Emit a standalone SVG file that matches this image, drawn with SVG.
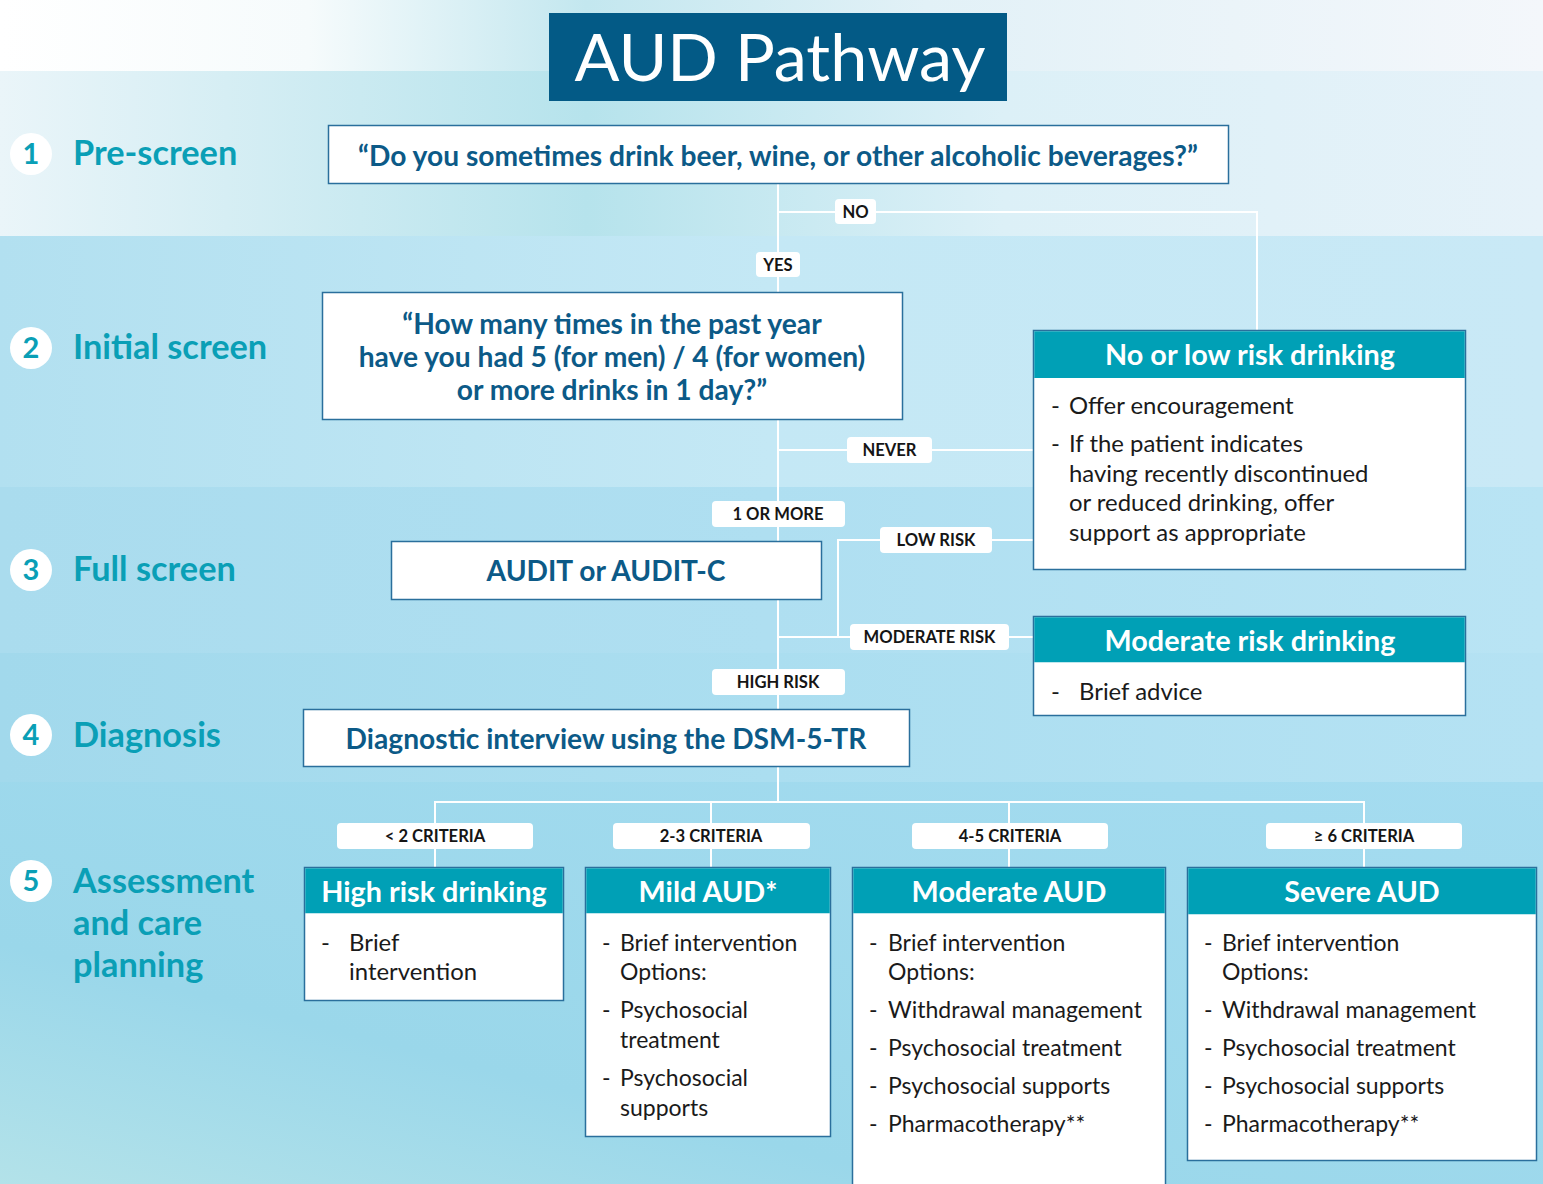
<svg xmlns="http://www.w3.org/2000/svg" width="1543" height="1184" viewBox="0 0 1543 1184">
<defs>
<linearGradient id="g0" x1="0" y1="0" x2="1" y2="0">
<stop offset="0" stop-color="#ffffff"/><stop offset="0.2" stop-color="#f6fbfc"/><stop offset="0.38" stop-color="#c3e7ef"/><stop offset="0.6" stop-color="#e2f1f7"/><stop offset="1" stop-color="#f4f7fb"/>
</linearGradient>
<linearGradient id="g1" x1="0" y1="0" x2="1" y2="0">
<stop offset="0" stop-color="#eaf5f9"/><stop offset="0.38" stop-color="#b6e3ec"/><stop offset="0.65" stop-color="#dcf0f7"/><stop offset="1" stop-color="#e6f2f9"/>
</linearGradient>
<linearGradient id="g2" x1="0" y1="0" x2="1" y2="0">
<stop offset="0" stop-color="#b2e0f0"/><stop offset="0.5" stop-color="#c4e8f5"/><stop offset="1" stop-color="#c9e9f6"/>
</linearGradient>
<linearGradient id="g3" x1="0" y1="0" x2="1" y2="0">
<stop offset="0" stop-color="#aadcee"/><stop offset="0.5" stop-color="#afdff1"/><stop offset="1" stop-color="#b9e4f4"/>
</linearGradient>
<linearGradient id="g4" x1="0" y1="0" x2="1" y2="0">
<stop offset="0" stop-color="#a2d9ec"/><stop offset="0.5" stop-color="#abdef0"/><stop offset="1" stop-color="#b5e2f3"/>
</linearGradient>
<linearGradient id="g5" x1="0" y1="1" x2="1" y2="0">
<stop offset="0" stop-color="#b3e2e9"/><stop offset="0.3" stop-color="#9ad7ea"/><stop offset="1" stop-color="#a5dcf0"/>
</linearGradient>
<style>
.box{fill:#ffffff;stroke:#2a6f9c;stroke-width:1.5}
.hdr{fill:#00a0b6}
.q{font-family:Lato,'Open Sans',sans-serif;font-weight:bold;font-size:28.2px;fill:#0c5a87;text-anchor:middle}
.ht{font-family:Lato,'Open Sans',sans-serif;font-weight:bold;font-size:28.8px;fill:#ffffff;text-anchor:middle}
.bt{font-family:Lato,'Open Sans',sans-serif;font-size:23px;fill:#1a1a1a}
.bt2{font-family:Lato,'Open Sans',sans-serif;font-size:23.9px;fill:#1a1a1a}
.st{font-family:Lato,'Open Sans',sans-serif;font-weight:bold;font-size:34.3px;fill:#0a9fb6}
.sn{font-family:Lato,'Open Sans',sans-serif;font-weight:bold;font-size:29px;fill:#0a9fb6;text-anchor:middle}
.circ{fill:#ffffff}
.lbl{fill:#ffffff}
.lt{font-family:Lato,'Open Sans',sans-serif;font-weight:bold;font-size:16.6px;fill:#151515;text-anchor:middle}
.con{fill:none;stroke:#ffffff;stroke-width:2}
</style>
</defs>

<g id="background">
<rect x="0" y="0" width="1543" height="71" fill="url(#g0)"/>
<rect x="0" y="71" width="1543" height="165" fill="url(#g1)"/>
<rect x="0" y="236" width="1543" height="251" fill="url(#g2)"/>
<rect x="0" y="487" width="1543" height="166" fill="url(#g3)"/>
<rect x="0" y="653" width="1543" height="129" fill="url(#g4)"/>
<rect x="0" y="782" width="1543" height="402" fill="url(#g5)"/>
</g>

<g id="title">
<rect x="549" y="13" width="458" height="88" fill="#035a86"/>
<text x="780" y="81" font-family="Lato,'Open Sans',sans-serif" font-size="66.5" fill="#ffffff" text-anchor="middle">AUD Pathway</text>
</g>

<g id="stages">
<g id="stage1"><circle class="circ" cx="31" cy="154" r="21"/><text class="sn" x="31" y="164">1</text><text class="st" x="73" y="165">Pre-screen</text></g>
<g id="stage2"><circle class="circ" cx="31" cy="348" r="21"/><text class="sn" x="31" y="358">2</text><text class="st" x="73" y="359">Initial screen</text></g>
<g id="stage3"><circle class="circ" cx="31" cy="570" r="21"/><text class="sn" x="31" y="580">3</text><text class="st" x="73" y="581">Full screen</text></g>
<g id="stage4"><circle class="circ" cx="31" cy="735" r="21"/><text class="sn" x="31" y="745">4</text><text class="st" x="73" y="747">Diagnosis</text></g>
<g id="stage5"><circle class="circ" cx="31" cy="881" r="21"/><text class="sn" x="31" y="891">5</text><text class="st" x="73" y="893">Assessment</text><text class="st" x="73" y="935">and care</text><text class="st" x="73" y="977">planning</text></g>
</g>

<g id="connectors">
<path class="con" d="M778 184 V292"/>
<path class="con" d="M778 212 H1257 V330"/>
<path class="con" d="M778 420 V541"/>
<path class="con" d="M778 450 H1033"/>
<path class="con" d="M1033 540 H838 V637"/>
<path class="con" d="M778 600 V709"/>
<path class="con" d="M778 637 H1033"/>
<path class="con" d="M778 767 V802"/>
<path class="con" d="M435 867 V802 H1364 V867"/>
<path class="con" d="M711 802 V867"/>
<path class="con" d="M1009 802 V867"/>
</g>

<g id="labels">
<g id="lbl-no"><rect class="lbl" x="835" y="199" width="41" height="25" rx="4"/><text class="lt" x="855.5" y="217.5">NO</text></g>
<g id="lbl-yes"><rect class="lbl" x="756" y="252" width="44" height="25" rx="4"/><text class="lt" x="778" y="270.5">YES</text></g>
<g id="lbl-never"><rect class="lbl" x="847" y="437" width="85" height="26" rx="4"/><text class="lt" x="889.5" y="456">NEVER</text></g>
<g id="lbl-1ormore"><rect class="lbl" x="712" y="501" width="133" height="26" rx="4"/><text class="lt" x="778" y="520">1 OR MORE</text></g>
<g id="lbl-low"><rect class="lbl" x="880" y="527" width="112" height="26" rx="4"/><text class="lt" x="936" y="546">LOW RISK</text></g>
<g id="lbl-mod"><rect class="lbl" x="850" y="624" width="159" height="26" rx="4"/><text class="lt" x="929.5" y="643">MODERATE RISK</text></g>
<g id="lbl-high"><rect class="lbl" x="712" y="669" width="133" height="26" rx="4"/><text class="lt" x="778" y="688">HIGH RISK</text></g>
<g id="lbl-c1"><rect class="lbl" x="337" y="823" width="196" height="26" rx="4"/><text class="lt" x="435" y="842">&lt; 2 CRITERIA</text></g>
<g id="lbl-c2"><rect class="lbl" x="613" y="823" width="197" height="26" rx="4"/><text class="lt" x="711" y="842">2-3 CRITERIA</text></g>
<g id="lbl-c3"><rect class="lbl" x="912" y="823" width="196" height="26" rx="4"/><text class="lt" x="1010" y="842">4-5 CRITERIA</text></g>
<g id="lbl-c4"><rect class="lbl" x="1266" y="823" width="196" height="26" rx="4"/><text class="lt" x="1364" y="842">≥ 6 CRITERIA</text></g>
</g>

<g id="prescreen">
<rect class="box" x="328.5" y="125.5" width="900" height="58"/>
<text class="q" x="778" y="166">“Do you sometimes drink beer, wine, or other alcoholic beverages?”</text>
</g>

<g id="initial">
<rect class="box" x="322.5" y="292.5" width="580" height="127"/>
<text class="q" x="612" y="334">“How many times in the past year</text>
<text class="q" x="612" y="367">have you had 5 (for men) / 4 (for women)</text>
<text class="q" x="612" y="400">or more drinks in 1 day?”</text>
</g>

<g id="audit">
<rect class="box" x="391.5" y="541.5" width="430" height="58"/>
<text class="q" x="606" y="581">AUDIT or AUDIT-C</text>
</g>

<g id="diagnosis">
<rect class="box" x="303.5" y="709.5" width="606" height="57"/>
<text class="q" x="606" y="749">Diagnostic interview using the DSM-5-TR</text>
</g>

<g id="nolow">
<rect class="box" x="1033.5" y="330.5" width="432" height="239"/>
<rect class="hdr" x="1034.25" y="331.25" width="430.5" height="46.75"/>
<text class="ht" x="1250" y="365">No or low risk drinking</text>
<text class="bt2" x="1051" y="414">-</text><text class="bt2" x="1069" y="414">Offer encouragement</text>
<text class="bt2" x="1051" y="452">-</text><text class="bt2" x="1069" y="452">If the patient indicates</text>
<text class="bt2" x="1069" y="482">having recently discontinued</text>
<text class="bt2" x="1069" y="511">or reduced drinking, offer</text>
<text class="bt2" x="1069" y="541">support as appropriate</text>
</g>

<g id="modrisk">
<rect class="box" x="1033.5" y="616.5" width="432" height="99"/>
<rect class="hdr" x="1034.25" y="617.25" width="430.5" height="45"/>
<text class="ht" x="1250" y="651">Moderate risk drinking</text>
<text class="bt2" x="1051" y="700">-</text><text class="bt2" x="1079" y="700">Brief advice</text>
</g>

<g id="highrisk">
<rect class="box" x="304.5" y="867.5" width="259" height="133"/>
<rect class="hdr" x="305.25" y="868.25" width="257.5" height="45"/>
<text class="ht" x="434" y="902">High risk drinking</text>
<text class="bt2" x="321" y="951">-</text><text class="bt2" x="349" y="951">Brief</text>
<text class="bt2" x="349" y="980">intervention</text>
</g>

<g id="mild">
<rect class="box" x="585.5" y="867.5" width="245" height="269"/>
<rect class="hdr" x="586.25" y="868.25" width="243.5" height="45"/>
<text class="ht" x="708" y="902">Mild AUD*</text>
<text class="bt" x="602" y="951">-</text><text class="bt" x="620" y="951" font-size="23.4">Brief intervention</text>
<text class="bt" x="620" y="980" font-size="23.4">Options:</text>
<text class="bt" x="602" y="1018">-</text><text class="bt" x="620" y="1018" font-size="23.4">Psychosocial</text>
<text class="bt" x="620" y="1048" font-size="23.4">treatment</text>
<text class="bt" x="602" y="1086">-</text><text class="bt" x="620" y="1086" font-size="23.4">Psychosocial</text>
<text class="bt" x="620" y="1116" font-size="23.4">supports</text>
</g>

<g id="moderate">
<rect class="box" x="852.5" y="867.5" width="313" height="330"/>
<rect class="hdr" x="853.25" y="868.25" width="311.5" height="45"/>
<text class="ht" x="1009" y="902">Moderate AUD</text>
<text class="bt" x="869" y="951">-</text><text class="bt" x="888" y="951">Brief intervention</text>
<text class="bt" x="888" y="980">Options:</text>
<text class="bt" x="869" y="1018">-</text><text class="bt" x="888" y="1018">Withdrawal management</text>
<text class="bt" x="869" y="1056">-</text><text class="bt" x="888" y="1056">Psychosocial treatment</text>
<text class="bt" x="869" y="1094">-</text><text class="bt" x="888" y="1094">Psychosocial supports</text>
<text class="bt" x="869" y="1132">-</text><text class="bt" x="888" y="1132">Pharmacotherapy**</text>
</g>

<g id="severe">
<rect class="box" x="1187.5" y="867.5" width="349" height="293"/>
<rect class="hdr" x="1188.25" y="868.25" width="347.5" height="46"/>
<text class="ht" x="1362" y="902">Severe AUD</text>
<text class="bt" x="1204" y="951">-</text><text class="bt" x="1222" y="951">Brief intervention</text>
<text class="bt" x="1222" y="980">Options:</text>
<text class="bt" x="1204" y="1018">-</text><text class="bt" x="1222" y="1018">Withdrawal management</text>
<text class="bt" x="1204" y="1056">-</text><text class="bt" x="1222" y="1056">Psychosocial treatment</text>
<text class="bt" x="1204" y="1094">-</text><text class="bt" x="1222" y="1094">Psychosocial supports</text>
<text class="bt" x="1204" y="1132">-</text><text class="bt" x="1222" y="1132">Pharmacotherapy**</text>
</g>
</svg>
